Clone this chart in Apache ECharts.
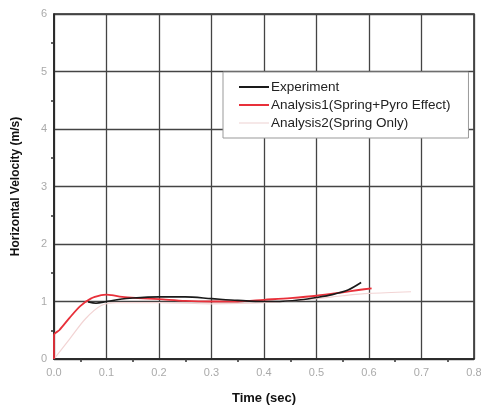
<!DOCTYPE html>
<html>
<head>
<meta charset="utf-8">
<script src="https://cdn.jsdelivr.net/npm/echarts@6/dist/echarts.min.js"></script>
<style>html,body{margin:0;padding:0;background:#fff}#c{width:481px;height:409px}</style>
</head>
<body>
<div id="c"></div>
<script>
const xTicks = [0.0, 0.1, 0.2, 0.3, 0.4, 0.5, 0.6, 0.7, 0.8];
const yTicks = [0, 1, 2, 3, 4, 5, 6];
const seriesNames = ['Experiment', 'Analysis1(Spring+Pyro Effect)', 'Analysis2(Spring Only)'];
const experimentT = [0.065, 0.08, 0.1, 0.12, 0.15, 0.2, 0.25, 0.3, 0.35, 0.4, 0.43, 0.47, 0.5, 0.53, 0.56, 0.585];
const experimentV = [0.99, 0.97, 1.0, 1.03, 1.06, 1.08, 1.08, 1.05, 1.02, 1.0, 1.0, 1.03, 1.07, 1.12, 1.2, 1.33];
const analysis1T = [0.0, 0.0, 0.01, 0.03, 0.05, 0.07, 0.09, 0.1, 0.11, 0.13, 0.16, 0.2, 0.25, 0.3, 0.35, 0.4, 0.45, 0.5, 0.55, 0.58, 0.605];
const analysis1V = [0.0, 0.42, 0.5, 0.72, 0.92, 1.05, 1.11, 1.12, 1.11, 1.08, 1.06, 1.04, 1.01, 1.0, 1.0, 1.03, 1.06, 1.1, 1.16, 1.2, 1.23];
const analysis2T = [0.0, 0.03, 0.06, 0.09, 0.12, 0.2, 0.3, 0.4, 0.5, 0.55, 0.6, 0.68];
const analysis2V = [0.0, 0.35, 0.7, 0.93, 0.98, 0.98, 0.96, 0.98, 1.05, 1.1, 1.14, 1.17];

const zip = (t, v) => t.map((x, i) => [x, v[i]]);
const chart = echarts.init(document.getElementById('c'), null, {renderer: 'canvas'});
const FONT = 'Liberation Sans';
chart.setOption({
  animation: false,
  backgroundColor: '#fff',
  grid: {left: 54, right: 7, top: 14, bottom: 50, show: true, borderColor: '#222', borderWidth: 1.5,
    containLabel: false, outerBoundsMode: 'none'},
  legend: {
    orient: 'vertical', left: 223, top: 72,
    backgroundColor: '#fff', borderColor: '#999', borderWidth: 1,
    padding: [8, 18, 8, 16], itemGap: 4, itemWidth: 30, itemHeight: 2, icon: 'rect',
    textStyle: {fontFamily: FONT, fontSize: 13.5, color: '#222', padding: [0, 0, 0, -3]},
    data: seriesNames
  },
  xAxis: {
    type: 'value', min: 0, max: 0.8, interval: 0.1,
    name: 'Time (sec)', nameLocation: 'middle', nameGap: 33,
    nameTextStyle: {fontFamily: FONT, fontSize: 13, fontWeight: 'bold', color: '#111'},
    axisLine: {lineStyle: {color: '#222', width: 1.5}},
    axisTick: {show: false},
    minorTick: {show: true, splitNumber: 2, length: 3, lineStyle: {color: '#333', width: 1.5}},
    splitLine: {show: true, lineStyle: {color: '#444', width: 1.3}},
    axisLabel: {fontFamily: FONT, fontSize: 11, color: '#aaa', margin: 8,
      formatter: v => xTicks.includes(Math.round(v*10)/10) ? v.toFixed(1) : ''}
  },
  yAxis: {
    type: 'value', min: 0, max: 6, interval: 1,
    name: 'Horizontal Velocity (m/s)', nameLocation: 'middle', nameGap: 32,
    nameTextStyle: {fontFamily: FONT, fontSize: 12, fontWeight: 'bold', color: '#111'},
    axisLine: {lineStyle: {color: '#222', width: 1.5}},
    axisTick: {show: false},
    minorTick: {show: true, splitNumber: 2, length: 3, lineStyle: {color: '#333', width: 1.5}},
    splitLine: {show: true, lineStyle: {color: '#444', width: 1.3}},
    axisLabel: {fontFamily: FONT, fontSize: 11, color: '#aaa', margin: 7,
      formatter: v => yTicks.includes(v) ? String(v) : ''}
  },
  series: [
    {name: seriesNames[2], type: 'line', data: zip(analysis2T, analysis2V), smooth: 0.3, symbol: 'none', showSymbol: false,
      lineStyle: {color: '#f2d4d4', width: 1.2}, itemStyle: {color: '#f6e8e8'}, z: 2},
    {name: seriesNames[1], type: 'line', data: zip(analysis1T, analysis1V), smooth: 0.3, symbol: 'none', showSymbol: false,
      lineStyle: {color: '#e8303a', width: 1.8}, itemStyle: {color: '#e8303a'}, z: 3},
    {name: seriesNames[0], type: 'line', data: zip(experimentT, experimentV), smooth: 0.3, symbol: 'none', showSymbol: false,
      lineStyle: {color: '#1a1a1a', width: 1.6}, itemStyle: {color: '#1a1a1a'}, z: 4}
  ]
});
</script>
</body>
</html>
